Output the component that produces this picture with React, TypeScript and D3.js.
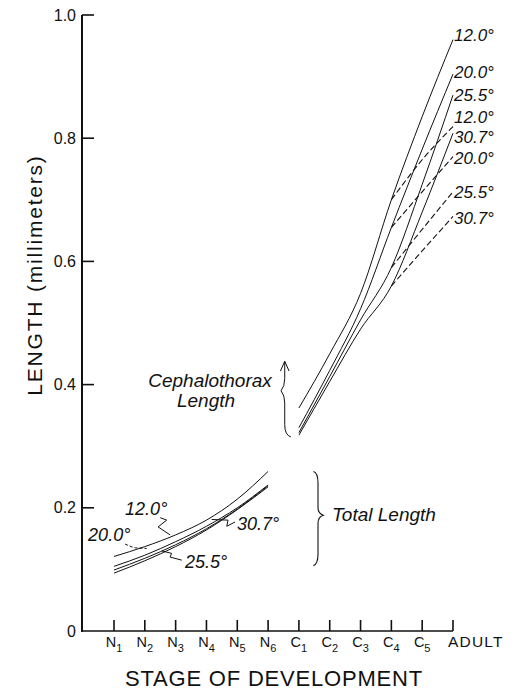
import React from "react";
import * as d3 from "d3";

const W = 517;
const H = 692;

// Stages of development
const stageBase = ["N", "N", "N", "N", "N", "N", "C", "C", "C", "C", "C", "ADULT"];
const stageSub = ["1", "2", "3", "4", "5", "6", "1", "2", "3", "4", "5", ""];

const temps = ["12.0°", "20.0°", "25.5°", "30.7°"];

// Total length (mm), stages N1..N6
const total12 = [0.121, 0.137, 0.156, 0.18, 0.214, 0.259];
const total20 = [0.105, 0.123, 0.145, 0.17, 0.2, 0.237];
const total25 = [0.099, 0.118, 0.14, 0.166, 0.198, 0.236];
const total30 = [0.094, 0.114, 0.137, 0.164, 0.197, 0.234];

// Cephalothorax length (mm), stages C1..ADULT (solid)
const ceph12 = [0.362, 0.45, 0.548, 0.7, 0.835, 0.96];
const ceph20 = [0.33, 0.423, 0.523, 0.655, 0.782, 0.904];
const ceph25 = [0.322, 0.413, 0.505, 0.59, 0.725, 0.87];
const ceph30 = [0.318, 0.405, 0.49, 0.56, 0.68, 0.808];

// Cephalothorax length (mm), stages C4..ADULT (dashed)
const cephB12 = [0.7, 0.765, 0.819];
const cephB20 = [0.655, 0.713, 0.77];
const cephB25 = [0.59, 0.652, 0.713];
const cephB30 = [0.56, 0.617, 0.673];

// Right-hand labels (text, value of baseline)
const rightLabels = ["12.0°", "20.0°", "25.5°", "12.0°", "30.7°", "20.0°", "25.5°", "30.7°"];
const rightLabelV = [0.958, 0.898, 0.86, 0.825, 0.792, 0.758, 0.703, 0.661];

const yTicks = [0, 0.2, 0.4, 0.6, 0.8, 1.0];
const yTickLabels = ["0", "0.2", "0.4", "0.6", "0.8", "1.0"];

// Lower labels: text, stage index, value of baseline
const lowLabelText = ["12.0°", "20.0°", "25.5°", "30.7°"];
const lowLabelX = [0.36, -0.84, 2.3, 3.99];
const lowLabelV = [0.188, 0.146, 0.103, 0.164];

// Leader squiggles (stage index, value)
const leader12: [number, number][] = [[1.5, 0.184], [1.71, 0.180], [1.43, 0.169], [1.82, 0.156]];
const leader20: [number, number][] = [[0.36, 0.141], [0.55, 0.137], [0.7, 0.135], [1.06, 0.134]];
const leader25: [number, number][] = [[2.2, 0.115], [1.82, 0.12], [1.87, 0.126], [1.55, 0.13]];
const leader30: [number, number][] = [[3.93, 0.177], [3.66, 0.17], [3.7, 0.18], [3.17, 0.181]];

const FONT = "'Liberation Sans', Arial, Helvetica, sans-serif";

export default function App() {
  const x = d3.scaleLinear().domain([0, 11]).range([114, 453]);
  const y = d3.scaleLinear().domain([0, 1]).range([631, 15]);
  const axisX = 82;

  const line = d3
    .line<[number, number]>()
    .x((d) => x(d[0]))
    .y((d) => y(d[1]))
    .curve(d3.curveMonotoneX);
  const straight = d3
    .line<[number, number]>()
    .x((d) => x(d[0]))
    .y((d) => y(d[1]))
    .curve(d3.curveLinear);

  const totals = [total12, total20, total25, total30];
  const cephs = [ceph12, ceph20, ceph25, ceph30];
  const cephBs = [cephB12, cephB20, cephB25, cephB30];

  const toPts = (arr: number[], start: number) =>
    arr.map((v, i) => [start + i, v] as [number, number]);

  // brace for cephalothorax (data coords)
  const bx = 5.54;
  const cephBrace = [
    `M${x(bx + 0.2)},${y(0.315)}`,
    `Q${x(bx)},${y(0.318)} ${x(bx)},${y(0.335)}`,
    `L${x(bx)},${y(0.37)}`,
    `Q${x(bx)},${y(0.383)} ${x(bx - 0.12)},${y(0.39)}`,
    `Q${x(bx)},${y(0.397)} ${x(bx)},${y(0.41)}`,
    `L${x(bx)},${y(0.437)}`,
  ].join(" ");
  const arrowHead = `M${x(bx - 0.14)},${y(0.422)} L${x(bx)},${y(0.438)} L${x(bx + 0.14)},${y(0.422)}`;

  // brace for total length
  const tx = 6.59;
  const totBrace = [
    `M${x(tx - 0.12)},${y(0.259)}`,
    `Q${x(tx + 0.03)},${y(0.257)} ${x(tx + 0.03)},${y(0.24)}`,
    `L${x(tx + 0.03)},${y(0.2)}`,
    `Q${x(tx + 0.03)},${y(0.191)} ${x(tx + 0.2)},${y(0.188)}`,
    `Q${x(tx + 0.03)},${y(0.185)} ${x(tx + 0.03)},${y(0.175)}`,
    `L${x(tx + 0.03)},${y(0.125)}`,
    `Q${x(tx + 0.03)},${y(0.109)} ${x(tx - 0.12)},${y(0.106)}`,
  ].join(" ");

  return (
    <svg
      width={W}
      height={H}
      style={{ position: "absolute", left: 0, top: 0, background: "#fff" }}
      fontFamily={FONT}
    >
      <rect width={W} height={H} fill="#fff" />
      {/* axes */}
      <line x1={axisX} y1={y(1)} x2={axisX} y2={y(0) + 1} stroke="#111" strokeWidth={2} />
      <line x1={axisX} y1={y(0)} x2={x(11)} y2={y(0)} stroke="#111" strokeWidth={1.6} />
      {yTicks.map((t, i) => (
        <g key={"yt" + i}>
          {t > 0 && (
            <line x1={axisX} x2={axisX + 12} y1={y(t)} y2={y(t)} stroke="#111" strokeWidth={1.6} />
          )}
          <text x={76} y={y(t) + 5.5} textAnchor="end" fontSize={16} fill="#111">
            {yTickLabels[i]}
          </text>
        </g>
      ))}
      {stageBase.map((s, i) => (
        <g key={"xt" + i}>
          <line x1={x(i)} x2={x(i)} y1={y(0)} y2={y(0) - 11} stroke="#111" strokeWidth={1.6} />
          {i < 11 ? (
            <text x={x(i)} y={647} textAnchor="middle" fontSize={14.5} fill="#111">
              {s}
              <tspan dy={5} fontSize={11}>
                {stageSub[i]}
              </tspan>
            </text>
          ) : (
            <text x={x(i) - 5} y={647} fontSize={15.5} letterSpacing={1.2} fill="#111">
              {s}
            </text>
          )}
        </g>
      ))}
      <text x={274} y={686} textAnchor="middle" fontSize={22} letterSpacing={0.8} fill="#111">
        STAGE OF DEVELOPMENT
      </text>
      <text
        transform={`translate(42,${275}) rotate(-90)`}
        textAnchor="middle"
        fontSize={21}
        letterSpacing={1.8}
        fill="#111"
      >
        LENGTH (millimeters)
      </text>

      {/* total length lines */}
      {totals.map((arr, k) => (
        <path key={"tl" + k} d={line(toPts(arr, 0)) || ""} fill="none" stroke="#111" strokeWidth={1} />
      ))}
      {/* cephalothorax solid */}
      {cephs.map((arr, k) => (
        <path key={"cs" + k} d={line(toPts(arr, 6)) || ""} fill="none" stroke="#111" strokeWidth={1} />
      ))}
      {/* cephalothorax dashed */}
      {cephBs.map((arr, k) => (
        <path
          key={"cd" + k}
          d={line(toPts(arr, 9)) || ""}
          fill="none"
          stroke="#111"
          strokeWidth={1.1}
          strokeDasharray="6,3"
        />
      ))}

      {/* right labels */}
      {rightLabels.map((t, i) => (
        <text key={"rl" + i} x={x(11) + 1} y={y(rightLabelV[i])} fontSize={17} fontStyle="italic" fill="#111">
          {t}
        </text>
      ))}

      {/* lower labels */}
      {lowLabelText.map((t, i) => (
        <text key={"ll" + i} x={x(lowLabelX[i])} y={y(lowLabelV[i])} fontSize={18} fontStyle="italic" fill="#111">
          {t}
        </text>
      ))}
      {[leader12, leader25, leader30].map((pts, i) => (
        <path key={"ld" + i} d={straight(pts) || ""} fill="none" stroke="#111" strokeWidth={1} />
      ))}
      <path d={straight(leader20) || ""} fill="none" stroke="#111" strokeWidth={1} strokeDasharray="3,2" />

      {/* annotations */}
      <text x={210} y={387} textAnchor="middle" fontSize={19} fontStyle="italic" fill="#111">
        Cephalothorax
      </text>
      <text x={206} y={407} textAnchor="middle" fontSize={19} fontStyle="italic" fill="#111">
        Length
      </text>
      <path d={cephBrace} fill="none" stroke="#111" strokeWidth={1} />
      <path d={arrowHead} fill="none" stroke="#111" strokeWidth={1} />
      <path d={totBrace} fill="none" stroke="#111" strokeWidth={1.1} />
      <text x={332} y={521} fontSize={19} fontStyle="italic" fill="#111">
        Total Length
      </text>
      <text x={0} y={0} fontSize={1} fill="#fff">{temps.join(" ")}</text>
    </svg>
  );
}
